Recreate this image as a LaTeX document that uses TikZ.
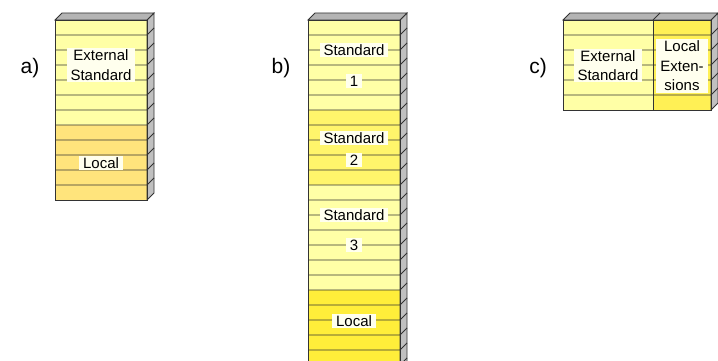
\documentclass[tikz,border=0pt]{standalone}
\usepackage{fontspec}
\setmainfont{Liberation Sans}
\definecolor{hlight}{HTML}{FFFFA6}
\definecolor{hyel}{HTML}{FFF56B}
\definecolor{locA}{HTML}{FFE47C}
\definecolor{locB}{HTML}{FFEE3A}
\definecolor{locC}{HTML}{FFF055}
\definecolor{sidegray}{HTML}{C0C0C0}
\definecolor{topgray}{HTML}{B4B4B4}
\definecolor{lblfill}{HTML}{FFFFEE}
\definecolor{edgec}{HTML}{333333}
\begin{document}
\begin{tikzpicture}[x=1pt,y=-1pt,
  rowline/.style={draw=edgec, line width=0.8pt},
  outline/.style={draw=edgec, line width=0.8pt},
  lbl/.style={fill=lblfill, inner xsep=4pt, inner ysep=1.5pt, font=\fontsize{15}{19.5}\selectfont, align=center},
  tag/.style={font=\fontsize{21}{25}\selectfont, inner sep=0pt}]
\useasboundingbox (0,0) rectangle (718,361);
% ---------- box a ----------
\fill[hlight] (55,20) rectangle (147,125);
\fill[locA] (55,125) rectangle (147,200);
\filldraw[fill=sidegray, outline] (147,20) -- (154,13) -- (154,193) -- (147,200) -- cycle;
\filldraw[fill=topgray, outline] (55,20) -- (62,13) -- (154,13) -- (147,20) -- cycle;
\foreach \y in {35,50,...,185} { \draw[rowline] (55,\y) -- (147,\y) -- ++(7,-7); }
\draw[outline] (55,20) rectangle (147,200);
% ---------- box b ----------
\begin{scope}
\clip (0,0) rectangle (718,361);
\fill[hlight] (308,20) rectangle (400,110);
\fill[hyel] (308,110) rectangle (400,185);
\fill[hlight] (308,185) rectangle (400,290);
\fill[locB] (308,290) rectangle (400,372);
\filldraw[fill=sidegray, outline] (400,20) -- (407,13) -- (407,365) -- (400,372) -- cycle;
\filldraw[fill=topgray, outline] (308,20) -- (315,13) -- (407,13) -- (400,20) -- cycle;
\foreach \y in {35,50,...,365} { \draw[rowline] (308,\y) -- (400,\y) -- ++(7,-7); }
\draw[outline] (308,372) -- (308,20) -- (400,20) -- (400,372);
\end{scope}
% ---------- box c ----------
\fill[hlight] (563,20) rectangle (653,110);
\fill[locC] (653,20) rectangle (711,110);
\filldraw[fill=sidegray, outline] (711,20) -- (718,13) -- (718,103) -- (711,110) -- cycle;
\filldraw[fill=topgray, outline] (563,20) -- (570,13) -- (718,13) -- (711,20) -- cycle;
\draw[outline] (653,20) -- (660,13);
\foreach \y in {35,50,...,95} { \draw[rowline] (563,\y) -- (711,\y) -- ++(7,-7); }
\draw[outline] (563,20) rectangle (711,110);
\draw[outline] (653,20) -- (653,110);
% ---------- labels ----------
\node[lbl] (aext) at (101,65) {External\\Standard};
\node[lbl] (aloc) at (101,163) {Local};
\node[lbl] (bs1) at (354,50) {Standard};
\node[lbl] (bn1) at (354,81) {1};
\node[lbl] (bs2) at (354,138) {Standard};
\node[lbl] (bn2) at (354,160) {2};
\node[lbl] (bs3) at (354,215) {Standard};
\node[lbl] (bn3) at (354,245) {3};
\node[lbl] (bloc) at (354,321) {Local};
\node[lbl] (cext) at (608,65.5) {External\\Standard};
\node[lbl] (cloc) at (682,66) {Local\\Exten-\\sions};
\node[tag] (ta) at (30,68) {a)};
\node[tag] (tb) at (281,68) {b)};
\node[tag] (tc) at (538,68) {c)};
\end{tikzpicture}
\end{document}
